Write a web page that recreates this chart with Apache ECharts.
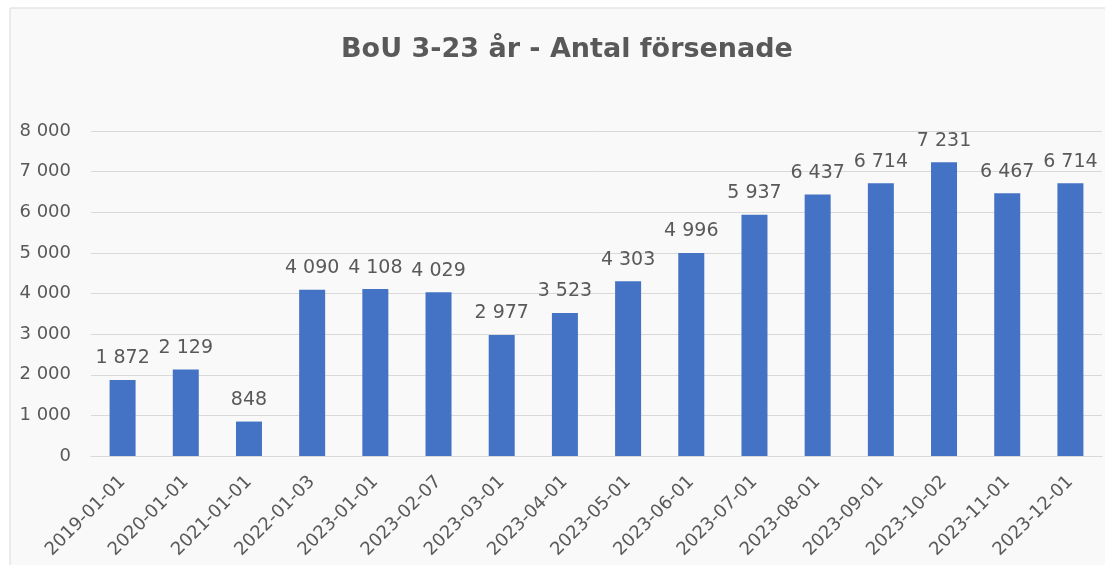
<!DOCTYPE html>
<html><head><meta charset="utf-8">
<script src="https://cdn.jsdelivr.net/npm/echarts@6/dist/echarts.min.js"></script>
<style>html,body{margin:0;padding:0;background:#fff}#c{width:1105px;height:565px}</style>
</head><body><div id="c"></div>
<script>
const categories = ['2019-01-01','2020-01-01','2021-01-01','2022-01-03','2023-01-01','2023-02-07','2023-03-01','2023-04-01','2023-05-01','2023-06-01','2023-07-01','2023-08-01','2023-09-01','2023-10-02','2023-11-01','2023-12-01'];
const values = [1872,2129,848,4090,4108,4029,2977,3523,4303,4996,5937,6437,6714,7231,6467,6714];
const titleText = 'BoU 3-23 år - Antal försenade';
const fmt = v => String(v).replace(/\B(?=(\d{3})+(?!\d))/g, ' ');
const F = 'DejaVu Sans';
const chart = echarts.init(document.getElementById('c'));
chart.setOption({
  animation: false,
  backgroundColor: '#fff',
  graphic: [{type:'rect', shape:{x:10,y:8,width:1200,height:700}, style:{fill:'#f9f9f9', stroke:'#d9d9d9', lineWidth:1}, z:-10}],
  title: {text: titleText, left: 336, top: 31, textStyle:{fontFamily:F, fontWeight:'bold', fontSize:27, color:'#595959'}},
  grid: {left: 91, right: 3, top: 131, bottom: 109, containLabel:false, outerBoundsMode:'none'},
  xAxis: {type:'category', data: categories,
    axisLine:{lineStyle:{color:'#d9d9d9', width:1}}, axisTick:{show:false},
    axisLabel:{rotate:45, color:'#595959', fontFamily:F, fontSize:18, margin:23, interval:0}},
  yAxis: {type:'value', min:0, max:8000, interval:1000,
    axisLabel:{color:'#595959', fontFamily:F, fontSize:18, margin:20, formatter: v => fmt(v)},
    splitLine:{lineStyle:{color:'#d9d9d9'}}, axisLine:{show:false}},
  series: [{type:'bar', data: values, barWidth: 26, itemStyle:{color:'#4472c4'},
    label:{show:true, position:'top', distance:12, color:'#595959', fontFamily:F, fontSize:19, formatter: p => fmt(p.value)}}]
});
</script></body></html>
